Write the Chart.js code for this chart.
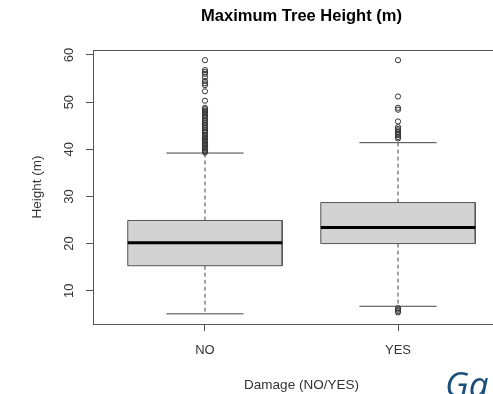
<!DOCTYPE html>
<html>
<head>
<meta charset="utf-8">
<title>Maximum Tree Height</title>
<script src="https://cdn.jsdelivr.net/npm/chart.js@4.4.1/dist/chart.umd.min.js"></script>
<style>
  html, body { margin: 0; padding: 0; background: #fff; overflow: hidden; }
  #wrap { width: 530px; height: 394px; }
</style>
</head>
<body>
<div id="wrap"><canvas id="myChart" width="530" height="394"></canvas></div>
<script>
// box stats (metres)
const categories = ["NO", "YES"];
const lowerWhisker = [5.1, 6.7];
const q1 = [15.3, 20.0];
const median = [20.2, 23.4];
const q3 = [24.9, 28.7];
const upperWhisker = [39.2, 41.4];
const outliersNo = [58.9, 56.8, 56.4, 56.0, 55.3, 54.5, 54.0, 53.6, 52.3, 50.3,
  48.8, 48.5, 48.2, 47.9, 47.6, 47.3, 47.0, 46.6, 46.2, 45.9, 45.5, 45.2, 44.8,
  44.5, 44.1, 43.8, 43.5, 43.1, 42.8, 42.5, 42.2, 41.9, 41.6, 41.3, 41.0, 40.7,
  40.4, 40.1, 39.8, 39.5, 39.3];
const outliersYes = [58.9, 51.2, 48.8, 48.4, 45.9, 44.7, 44.3, 44.0, 43.6, 43.3,
  43.0, 42.6, 42.3, 6.3, 6.0, 5.7, 5.4];
const yTicks = [10, 20, 30, 40, 50, 60];

const outliers = [outliersNo, outliersYes];
const font = "'Liberation Sans', Arial, sans-serif";

// higher "order" is painted first, so the median ends up on top of the box
const datasets = [];
categories.forEach((cat, i) => {
  const x = i + 1;
  // dashed whiskers
  datasets.push({
    order: 5,
    data: [{ x: x, y: q3[i] }, { x: x, y: upperWhisker[i] }, { x: x, y: null },
           { x: x, y: q1[i] }, { x: x, y: lowerWhisker[i] }],
    showLine: true, spanGaps: false, borderColor: "#444", borderWidth: 1,
    borderDash: [4, 3], pointRadius: 0
  });
  // whisker caps
  datasets.push({
    order: 4,
    data: [{ x: x - 0.2, y: upperWhisker[i] }, { x: x + 0.2, y: upperWhisker[i] }, { x: x, y: null },
           { x: x - 0.2, y: lowerWhisker[i] }, { x: x + 0.2, y: lowerWhisker[i] }],
    showLine: true, spanGaps: false, borderColor: "#444", borderWidth: 1, pointRadius: 0
  });
  // box
  datasets.push({
    order: 3,
    data: [{ x: x - 0.4, y: q1[i] }, { x: x - 0.4, y: q3[i] }, { x: x + 0.4, y: q3[i] },
           { x: x + 0.4, y: q1[i] }, { x: x - 0.4, y: q1[i] }],
    showLine: true, fill: "shape", backgroundColor: "#d3d3d3", borderColor: "#555",
    borderWidth: 1, pointRadius: 0
  });
  // median
  datasets.push({
    order: 2,
    data: [{ x: x - 0.4, y: median[i] }, { x: x + 0.4, y: median[i] }],
    showLine: true, borderColor: "#000", borderWidth: 3, pointRadius: 0
  });
  // outliers
  datasets.push({
    order: 1,
    data: outliers[i].map(v => ({ x: x, y: v })),
    showLine: false, pointRadius: 2.6, pointBorderWidth: 1,
    pointBorderColor: "#333", pointBackgroundColor: "rgba(0,0,0,0)"
  });
});
datasets.forEach(d => { d.xAxisID = "x"; d.yAxisID = "y"; });

// box round the plot region, like R's frame
const frame = {
  id: "frame",
  afterDatasetsDraw(chart) {
    const { ctx, chartArea } = chart;
    ctx.save();
    ctx.strokeStyle = "#555";
    ctx.lineWidth = 1;
    ctx.strokeRect(Math.round(chartArea.left) + 0.5, Math.round(chartArea.top) + 0.5,
      Math.round(chartArea.right - chartArea.left), Math.round(chartArea.bottom - chartArea.top));
    ctx.restore();
  }
};

// the cut-off word in the lower right corner
const corner = {
  id: "corner",
  afterDraw(chart) {
    const ctx = chart.ctx;
    ctx.save();
    ctx.font = "italic 35px 'Open Sans'";
    ctx.fillStyle = "#1b4f7b";
    ctx.textBaseline = "alphabetic";
    ctx.fillText("Ga", 445, 397);
    ctx.restore();
  }
};

new Chart(document.getElementById("myChart"), {
  type: "scatter",
  data: { datasets: datasets },
  options: {
    responsive: false,
    animation: false,
    layout: { padding: { left: 0, right: 20, top: 0, bottom: 0 } },
    plugins: {
      legend: { display: false },
      tooltip: { enabled: false }
    },
    scales: {
      x: {
        type: "linear",
        min: 0.42,
        max: 2.58,
        afterBuildTicks: s => { s.ticks = [1, 2].map(v => ({ value: v })); },
        afterFit: s => { s.height = 70; },
        ticks: {
          callback: v => categories[v - 1],
          color: "#333",
          font: { family: font, size: 13 },
          padding: 11.5,
          maxRotation: 0
        },
        grid: { drawOnChartArea: false, drawTicks: true, tickLength: 7, color: "#555" },
        border: { display: false },
        title: {
          display: true,
          text: "Damage (NO/YES)",
          color: "#333",
          font: { family: font, size: 13.5 },
          padding: { top: 0, bottom: 1 }
        }
      },
      // empty top axis, only there so the main title is centred over the plot region
      x2: {
        type: "linear",
        position: "top",
        min: 0,
        max: 1,
        afterFit: s => { s.height = 50; },
        ticks: { display: false },
        grid: { display: false },
        border: { display: false },
        title: {
          display: true,
          text: "Maximum Tree Height (m)",
          color: "#000",
          font: { family: font, size: 16.5, weight: "bold" },
          padding: { top: 7, bottom: 0 }
        }
      },
      y: {
        type: "linear",
        min: 2.94,
        max: 61.06,
        afterBuildTicks: s => { s.ticks = yTicks.map(v => ({ value: v })); },
        afterFit: s => { s.width = 93; },
        ticks: {
          color: "#333",
          font: { family: font, size: 13 },
          minRotation: 90,
          maxRotation: 90,
          crossAlign: "center",
          padding: 9
        },
        grid: { drawOnChartArea: false, drawTicks: true, tickLength: 7, color: "#555" },
        border: { display: false },
        title: {
          display: true,
          text: "Height (m)",
          color: "#333",
          font: { family: font, size: 13.5 },
          padding: { top: 29, bottom: 0 }
        }
      }
    }
  },
  plugins: [frame, corner]
});
</script>
</body>
</html>
